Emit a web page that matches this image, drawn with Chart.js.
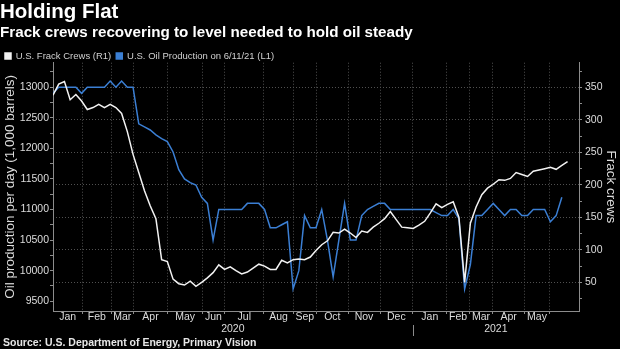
<!DOCTYPE html>
<html>
<head>
<meta charset="utf-8">
<script src="https://cdn.jsdelivr.net/npm/chart.js@4.4.1/dist/chart.umd.min.js"></script>
<style>
  html, body { margin: 0; padding: 0; background: #000; }
  #wrap { position: relative; width: 620px; height: 349px; }
  #source { position: absolute; left: 3px; top: 336px; font: bold 10.5px "Liberation Sans", Arial, sans-serif; color: #e6e6e6; white-space: nowrap; }
</style>
</head>
<body>
<div id="wrap">
  <canvas id="chart" width="620" height="349"></canvas>
  <div id="source">Source: U.S. Department of Energy, Primary Vision</div>
</div>
<script>
// Weekly points, index 0 = first week of Jan 2020
const fracCrews = [
  338, 355, 359, 331, 339, 329, 316, 319, 324, 319,
  324, 319, 310, 282, 247, 219, 191, 168, 148, 85,
  82, 55, 48, 46, 52, 44, 50, 57, 65, 77,
  70, 74, 68, 63, 66, 72, 78, 75, 70, 70,
  84, 80, 85, 86, 85, 89, 99, 108, 114, 127,
  126, 132, 126, 119, 129, 127, 135, 141, 148, 159,
  147, 135, 134, 133, 138, 144, 157, 171, 165, 170,
  174, 150, 50, 141, 166, 185, 195, 201, 208, 207,
  210, 219, 216, 213, 221, 223, 225, 227, 224, 230,
  236
];

const oilProduction = [
  12900, 13000, 13000, 13000, 13000, 12900, 13000, 13000, 13000, 13000,
  13100, 13000, 13100, 13000, 13000, 12400, 12350, 12300, 12220, 12160,
  12110, 11940, 11650, 11500, 11440, 11400, 11200, 11100, 10500, 11000,
  11000, 11000, 11000, 11000, 11100, 11100, 11100, 11000, 10700, 10700,
  10750, 10800, 9700, 10000, 10900, 10700, 10700, 11000, 10500, 9900,
  10500, 11100, 10500, 10500, 10900, 11000, 11050, 11100, 11100, 11000,
  11000, 11000, 11000, 11000, 11000, 11000, 11000, 10950, 10900, 10900,
  11000, 10850, 9700, 10100, 10900, 10900, 11000, 11100, 11000, 10900,
  11000, 11000, 10900, 10900, 11000, 11000, 11000, 10800, 10900, 11200
];

// Month axis (positions in point-index units)
const monthNames = ["Jan", "Feb", "Mar", "Apr", "May", "Jun", "Jul", "Aug", "Sep", "Oct", "Nov", "Dec",
                    "Jan", "Feb", "Mar", "Apr", "May"];
const monthStarts = [5.15, 10.2, 14.0, 20.1, 26.1, 30.0, 36.9, 42.0, 46.1, 51.6, 57.2, 62.9,
                     68.9, 72.8, 76.9, 82.5, 86.8];
const yearNames = ["2020", "2021"];
const yearStart = 62.9;
const xMax = 92;

// Tick values for the two value axes
const oilTicks = [];
for (let v = 9500; v <= 13250; v += 250) oilTicks.push(v);
const crewTicks = [];
for (let v = 25; v <= 375; v += 25) crewTicks.push(v);

const gridColor = "#505050";
const axisColor = "#8c8c8c";
const textColor = "#dcdcdc";

// x ticks: month edges (grid lines), month names, year names
const edges = [0].concat(monthStarts);
const xTicks = [];
monthStarts.forEach(function (v) { xTicks.push({ value: v, label: "", edge: true }); });
monthNames.forEach(function (m, i) { xTicks.push({ value: (edges[i] + edges[i + 1]) / 2, label: m }); });
xTicks.push({ value: yearStart / 2, label: ["", yearNames[0]] });
xTicks.push({ value: (yearStart + xMax) / 2, label: ["", yearNames[1]] });
xTicks.sort(function (a, b) { return a.value - b.value; });

Chart.defaults.font.family = '"Liberation Sans", Arial, sans-serif';
Chart.defaults.color = textColor;

const yearDivider = {
  id: "yearDivider",
  afterDraw(chart) {
    const xs = chart.scales.x;
    const x = Math.round(xs.getPixelForValue(yearStart)) + 0.5;
    const ctx = chart.ctx;
    ctx.save();
    ctx.strokeStyle = axisColor;
    ctx.lineWidth = 1;
    ctx.beginPath();
    ctx.moveTo(x, xs.top + 14);
    ctx.lineTo(x, xs.top + 25);
    ctx.stroke();
    ctx.restore();
  }
};

const config = {
  type: "line",
  data: {
    datasets: [
      {
        label: "U.S. Frack Crews (R1)",
        data: fracCrews.map(function (v, i) { return { x: i, y: v }; }),
        yAxisID: "yR",
        borderColor: "#f2f2f2",
        backgroundColor: "#f2f2f2",
        borderWidth: 1.5,
        pointRadius: 0,
        tension: 0
      },
      {
        label: "U.S. Oil Production on 6/11/21 (L1)",
        data: oilProduction.map(function (v, i) { return { x: i, y: v }; }),
        yAxisID: "yL",
        borderColor: "#3b7fd4",
        backgroundColor: "#3b7fd4",
        borderWidth: 1.5,
        pointRadius: 0,
        tension: 0
      }
    ]
  },
  options: {
    responsive: false,
    animation: false,
    layout: { padding: { left: 0, right: 0, top: 0, bottom: 10 } },
    plugins: {
      title: {
        display: true,
        text: "Holding Flat",
        align: "start",
        color: "#ffffff",
        font: { size: 20.5, weight: "bold", lineHeight: 1.0 },
        padding: { top: 2.5, bottom: 0 }
      },
      subtitle: {
        display: true,
        text: "Frack crews recovering to level needed to hold oil steady",
        align: "start",
        color: "#ffffff",
        font: { size: 15.2, weight: "bold", lineHeight: 1.1 },
        padding: { top: 1.5, bottom: 5 }
      },
      legend: {
        display: true,
        align: "start",
        maxHeight: 16.5,
        labels: {
          boxWidth: 6,
          boxHeight: 6,
          padding: 5,
          color: "#d0d0d0",
          font: { size: 9.5 }
        }
      },
      tooltip: { enabled: false }
    },
    scales: {
      x: {
        type: "linear",
        min: 0,
        max: xMax,
        afterBuildTicks: function (s) {
          s.ticks = xTicks.map(function (t) { return { value: t.value }; });
        },
        afterFit: function (s) { s.height = 28; },
        ticks: {
          autoSkip: false,
          maxRotation: 0,
          minRotation: 0,
          padding: -3,
          color: textColor,
          font: { size: 10.5, lineHeight: 1.15 },
          callback: function (v, i) { return xTicks[i] ? xTicks[i].label : ""; }
        },
        grid: {
          drawOnChartArea: true,
          tickLength: 3,
          color: function (c) { return xTicks[c.index] && xTicks[c.index].edge ? gridColor : "rgba(0,0,0,0)"; },
          tickColor: function (c) { return xTicks[c.index] && xTicks[c.index].edge ? axisColor : "rgba(0,0,0,0)"; }
        },
        border: { display: true, color: axisColor, width: 1, dash: [1, 2] }
      },
      yL: {
        type: "linear",
        position: "left",
        min: 9340,
        max: 13400,
        afterBuildTicks: function (s) {
          s.ticks = oilTicks.map(function (v) { return { value: v }; });
        },
        afterFit: function (s) { s.width = 53; },
        ticks: {
          padding: 1,
          color: textColor,
          font: { size: 10.5 },
          callback: function (v) { return v % 500 === 0 ? String(v) : ""; }
        },
        grid: { drawOnChartArea: false, tickLength: 3, tickColor: axisColor },
        border: { display: true, color: axisColor, width: 1 },
        title: {
          display: true,
          text: "Oil production per day (1,000 barrels)",
          color: textColor,
          font: { size: 13.5 },
          padding: { top: 2, bottom: 0 }
        }
      },
      yR: {
        type: "linear",
        position: "right",
        min: 6,
        max: 388,
        afterBuildTicks: function (s) {
          s.ticks = crewTicks.map(function (v) { return { value: v }; });
        },
        afterFit: function (s) { s.width = 41; },
        ticks: {
          padding: 3,
          color: textColor,
          font: { size: 10.5 },
          callback: function (v) { return v % 50 === 0 ? String(v) : ""; }
        },
        grid: {
          drawOnChartArea: true,
          tickLength: 3,
          color: function (c) { return c.tick && c.tick.value % 50 === 0 ? gridColor : "rgba(0,0,0,0)"; },
          tickColor: axisColor
        },
        border: { display: true, color: axisColor, width: 1, dash: [1, 2] },
        title: {
          display: true,
          text: "Frack crews",
          color: textColor,
          font: { size: 13.5 },
          padding: { top: 1, bottom: 0 }
        }
      }
    }
  },
  plugins: [yearDivider]
};

const fracOilChart = new Chart(document.getElementById("chart"), config);
</script>
</body>
</html>
